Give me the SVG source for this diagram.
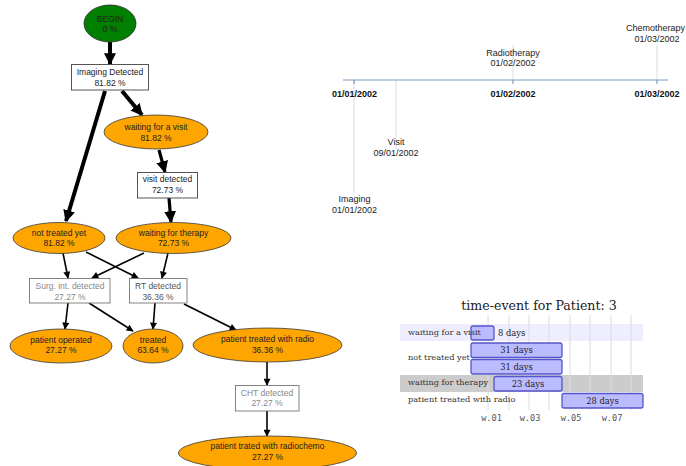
<svg xmlns="http://www.w3.org/2000/svg" width="686" height="466" viewBox="0 0 686 466">
<style>
.bg{fill:#ffffff}
.ell{fill:#ffa500;stroke:#3a3a3a;stroke-width:0.8}
.beg{fill:#007f00;stroke:#2a2a2a;stroke-width:0.8}
.box{fill:#ffffff;stroke:#444;stroke-width:0.9}
.boxg{fill:#ffffff;stroke:#777;stroke-width:0.9}
.t{font-family:"Liberation Sans",Arial,sans-serif;font-size:8.5px;fill:#222;text-anchor:middle}
.tg{fill:#888}
.tm{fill:#555}
.e{stroke:#000;fill:none}
.e4{stroke-width:4;marker-end:url(#ab)}
.e3{stroke-width:3.2;marker-end:url(#ab)}
.e1{stroke-width:1.6;marker-end:url(#as)}
.ax{stroke:#7f9cc2;stroke-width:1.2}
.ev{stroke:#d6dbe4;stroke-width:1}
.tl{font-family:"Liberation Sans",Arial,sans-serif;font-size:9px;fill:#222;text-anchor:middle}
.tlb{font-weight:bold;fill:#111}
.ttl{font-family:"DejaVu Serif",serif;font-size:12.6px;fill:#222;text-anchor:middle}
.rl{font-family:"DejaVu Serif",serif;font-size:8.2px;fill:#333}
.bl{font-family:"DejaVu Serif",serif;font-size:8.4px;fill:#222}
.bar{fill:#bbbbff;stroke:#5555cc;stroke-width:1.3}
.grid{stroke:#dcdcdc;stroke-width:1}
.wk{font-family:"DejaVu Sans Mono",monospace;font-size:8.6px;fill:#555;text-anchor:middle}
</style>
<defs>
<marker id="ab" markerUnits="userSpaceOnUse" markerWidth="12" markerHeight="12" viewBox="0 0 10 10" refX="9" refY="5" orient="auto">
<path d="M0,0 L10,5 L0,10 z" fill="#000"/>
</marker>
<marker id="as" markerUnits="userSpaceOnUse" markerWidth="8" markerHeight="7" viewBox="0 0 10 10" refX="9" refY="5" orient="auto">
<path d="M0,0 L10,5 L0,10 z" fill="#000"/>
</marker>
</defs>
<rect class="bg" x="0" y="0" width="686" height="466"/>

<g id="connectors">
<line class="e e4" x1="110" y1="42" x2="110" y2="64"/>
<line class="e e4" x1="122" y1="91" x2="142" y2="115"/>
<line class="e e4" x1="105" y1="91" x2="66" y2="221"/>
<line class="e e3" x1="159" y1="150" x2="165" y2="172"/>
<line class="e e3" x1="169" y1="198" x2="171" y2="222"/>
<line class="e e1" x1="63" y1="253" x2="68" y2="278"/>
<line class="e e1" x1="86" y1="252" x2="138" y2="278"/>
<line class="e e1" x1="144" y1="253" x2="92" y2="278"/>
<line class="e e1" x1="168" y1="253" x2="162" y2="278"/>
<line class="e e1" x1="68" y1="303" x2="65" y2="329"/>
<line class="e e1" x1="89" y1="303" x2="133" y2="331"/>
<line class="e e1" x1="155" y1="303" x2="153" y2="329"/>
<line class="e e1" x1="184" y1="304" x2="236" y2="330"/>
<line class="e e1" x1="267" y1="362" x2="267" y2="385"/>
<line class="e e1" x1="267" y1="411" x2="267" y2="436"/>
</g>

<g id="begin"><ellipse class="beg" cx="110" cy="23.5" rx="26" ry="18.5"/><text class="t" x="110" y="22">BEGIN</text><text class="t" x="110" y="32">0 %</text></g>
<g id="imaging"><rect class="box" x="71.5" y="64.5" width="77" height="25.5"/><text class="t" x="110" y="75">Imaging Detected</text><text class="t" x="110" y="85.5">81.82 %</text></g>
<g id="waitvisit"><ellipse class="ell" cx="156" cy="132" rx="52" ry="17"/><text class="t" x="156" y="130">waiting for a visit</text><text class="t" x="156" y="140.5">81.82 %</text></g>
<g id="visitdet"><rect class="box" x="137.5" y="172.5" width="60" height="25.5"/><text class="t" x="167.5" y="182">visit detected</text><text class="t" x="167.5" y="193">72.73 %</text></g>
<g id="nottreated"><ellipse class="ell" cx="59" cy="238" rx="46" ry="15.5"/><text class="t" x="59" y="235.5">not treated yet</text><text class="t" x="59" y="246">81.82 %</text></g>
<g id="waittherapy"><ellipse class="ell" cx="173.5" cy="238" rx="57.5" ry="15.5"/><text class="t" x="173.5" y="235.5">waiting for therapy</text><text class="t" x="173.5" y="246">72.73 %</text></g>
<g id="surg"><rect class="boxg" x="29.5" y="278.5" width="80.5" height="24.5"/><text class="t tg" x="70" y="289">Surg. int. detected</text><text class="t tg" x="70" y="299.5">27.27 %</text></g>
<g id="rt"><rect class="boxg" x="129.5" y="278.5" width="57.5" height="24.5"/><text class="t tm" x="158" y="289">RT detected</text><text class="t tm" x="158" y="299.5">36.36 %</text></g>
<g id="operated"><ellipse class="ell" cx="61" cy="346" rx="51" ry="17"/><text class="t" x="61" y="342.5">patient operated</text><text class="t" x="61" y="353">27.27 %</text></g>
<g id="treated"><ellipse class="ell" cx="153" cy="346" rx="30" ry="17"/><text class="t" x="153" y="342.5">treated</text><text class="t" x="153" y="353">63.64 %</text></g>
<g id="radio"><ellipse class="ell" cx="267.5" cy="345" rx="74.5" ry="17"/><text class="t" x="267.5" y="342">patient treated with radio</text><text class="t" x="267.5" y="352.5">36.36 %</text></g>
<g id="cht"><rect class="boxg" x="235.5" y="385.5" width="63.5" height="25.5"/><text class="t tg" x="267" y="395.5">CHT detected</text><text class="t tg" x="267" y="406">27.27 %</text></g>
<g id="radiochemo"><ellipse class="ell" cx="267.5" cy="453" rx="89" ry="17"/><text class="t" x="267.5" y="449">patient trated with radiochemo</text><text class="t" x="267.5" y="459.5">27.27 %</text></g>

<g id="timeline">
<line class="ev" x1="354" y1="80" x2="354" y2="193"/>
<line class="ev" x1="396" y1="80" x2="396" y2="149"/>
<line class="ev" x1="513" y1="45" x2="513" y2="80"/>
<line class="ev" x1="657" y1="45" x2="657" y2="80"/>
<line class="ax" x1="343" y1="80" x2="668" y2="80"/>
<line class="ax" x1="354" y1="80" x2="354" y2="84"/>
<line class="ax" x1="513" y1="80" x2="513" y2="84"/>
<line class="ax" x1="657" y1="80" x2="657" y2="84"/>
<text class="tl tlb" x="354.5" y="96.5">01/01/2002</text>
<text class="tl tlb" x="513" y="96.5">01/02/2002</text>
<text class="tl tlb" x="657" y="96.5">01/03/2002</text>
<text class="tl" x="655.5" y="30.5">Chemotherapy</text>
<text class="tl" x="657" y="41.5">01/03/2002</text>
<text class="tl" x="513" y="55.5">Radiotherapy</text>
<text class="tl" x="513" y="65.5">01/02/2002</text>
<text class="tl" x="396" y="144.5">Visit</text>
<text class="tl" x="396" y="156">09/01/2002</text>
<text class="tl" x="354.5" y="202">Imaging</text>
<text class="tl" x="354.5" y="213">01/01/2002</text>
</g>

<g id="gantt">
<text class="ttl" x="539" y="309.5">time-event for Patient: 3</text>
<rect x="400" y="324" width="243" height="17" fill="#eeeeff"/>
<rect x="400" y="375" width="243" height="17" fill="#cccccc"/>
<line class="grid" x1="488" y1="315" x2="488" y2="410"/>
<line class="grid" x1="509" y1="315" x2="509" y2="410"/>
<line class="grid" x1="529" y1="315" x2="529" y2="410"/>
<line class="grid" x1="549" y1="315" x2="549" y2="410"/>
<line class="grid" x1="570" y1="315" x2="570" y2="410"/>
<line class="grid" x1="590" y1="315" x2="590" y2="410"/>
<line class="grid" x1="611" y1="315" x2="611" y2="410"/>
<line class="grid" x1="631" y1="315" x2="631" y2="410"/>
<rect class="bar" x="471" y="326" width="23" height="14" rx="2"/>
<rect class="bar" x="471" y="343" width="91" height="14.5" rx="2"/>
<rect class="bar" x="471" y="359.5" width="91" height="14.5" rx="2"/>
<rect class="bar" x="494" y="376.5" width="68" height="14.5" rx="2"/>
<rect class="bar" x="562" y="393.5" width="81" height="14.5" rx="2"/>
<text class="bl" x="498" y="335.5">8 days</text>
<text class="bl" x="516.5" y="353" text-anchor="middle">31 days</text>
<text class="bl" x="516.5" y="369.5" text-anchor="middle">31 days</text>
<text class="bl" x="528" y="386.5" text-anchor="middle">23 days</text>
<text class="bl" x="602.5" y="403.5" text-anchor="middle">28 days</text>
<text class="rl" x="408" y="334.5">waiting for a visit</text>
<text class="rl" x="408" y="359.5">not treated yet</text>
<text class="rl" x="408" y="384.5">waiting for therapy</text>
<text class="rl" x="408" y="401.5">patient treated with radio</text>
<text class="wk" x="491.5" y="421">w.01</text>
<text class="wk" x="530" y="421">w.03</text>
<text class="wk" x="571" y="421">w.05</text>
<text class="wk" x="612" y="421">w.07</text>
</g>
</svg>
